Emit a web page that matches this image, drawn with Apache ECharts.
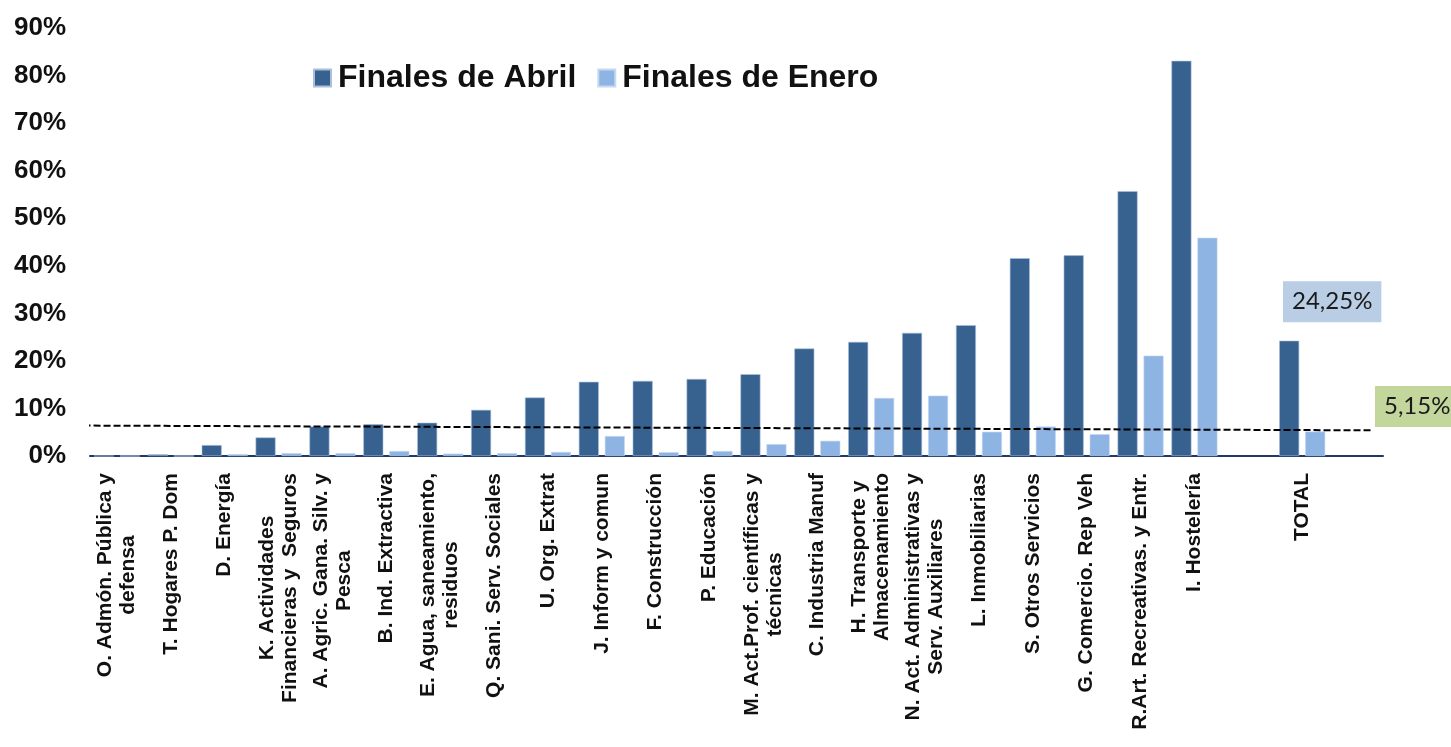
<!DOCTYPE html>
<html>
<head>
<meta charset="utf-8">
<script src="https://cdn.jsdelivr.net/npm/echarts@6/dist/echarts.min.js"></script>
<style>
html,body{margin:0;padding:0;background:#fff;}
#chart{width:1451px;height:747px;}
</style>
</head>
<body>
<div id="chart"></div>
<script>
const categories = [
  'O. Admón. Pública y\ndefensa', 'T. Hogares P. Dom', 'D. Energía',
  'K. Actividades\nFinancieras y  Seguros', 'A. Agric. Gana. Silv. y\nPesca',
  'B. Ind. Extractiva', 'E. Agua, saneamiento,\nresiduos', 'Q. Sani. Serv. Sociales',
  'U. Org. Extrat', 'J. Inform y comun', 'F. Construcción', 'P. Educación',
  'M. Act.Prof. científicas y\ntécnicas', 'C. Industria Manuf',
  'H. Transporte y\nAlmacenamiento', 'N. Act. Administrativas y\nServ. Auxiliares',
  'L. Inmobiliarias', 'S. Otros Servicios', 'G. Comercio. Rep Veh',
  'R.Art. Recreativas. y Entr.', 'I. Hostelería', '', 'TOTAL', ''
];
const finalesAbril = [0, 0.35, 2.3, 3.9, 6.2, 6.7, 7.0, 9.7, 12.3, 15.6, 15.8, 16.2, 17.2, 22.6, 24.0, 25.9, 27.5, 41.6, 42.2, 55.7, 83.1, null, 24.25, null];
const finalesEnero = [0, 0, 0.4, 0.6, 0.6, 1.05, 0.5, 0.6, 0.85, 4.2, 0.8, 1.05, 2.5, 3.2, 12.2, 12.7, 5.1, 6.2, 4.6, 21.1, 45.9, null, 5.15, null];
const yTicks = [0, 10, 20, 30, 40, 50, 60, 70, 80, 90];
// dashed reference line: [position along the plot width (0..1), value %]
const refLineX = [-0.005, 0.992];
const refLineY = [6.4, 5.4];
const totalAbrilLabel = '24,25%';
const totalEneroLabel = '5,15%';

const chart = echarts.init(document.getElementById('chart'), null, {renderer: 'canvas'});
const refData = refLineX.map((x, i) => [x, refLineY[i]]);

chart.setOption({
  animation: false,
  backgroundColor: '#ffffff',
  grid: {left: 90, right: 68, top: 28, bottom: 291, containLabel: false},
  legend: {
    left: 308, top: 57,
    itemWidth: 17, itemHeight: 17, itemGap: 21,
    icon: 'rect',
    textStyle: {fontSize: 32, fontWeight: 'bold', color: '#111', fontFamily: 'Liberation Sans, Arial, sans-serif', padding: [0, 0, 0, 2]},
    data: ['Finales de Abril', 'Finales de Enero']
  },
  xAxis: [{
    type: 'category',
    data: categories,
    axisLine: {lineStyle: {color: '#1f3a68', width: 2}},
    axisTick: {show: false},
    axisLabel: {
      interval: 0, rotate: 90, margin: 17,
      formatter: v => v.split('\n').map(s => '{c|' + s + '}').join('\n'),
      rich: {c: {align: 'center', fontSize: 21, fontWeight: 'bold', color: '#111', fontFamily: 'Liberation Sans, Arial, sans-serif', lineHeight: 23}}
    }
  }, {
    type: 'value', min: 0, max: 1, show: false
  }],
  yAxis: {
    type: 'value', min: yTicks[0], max: yTicks[yTicks.length - 1], interval: 10,
    axisLine: {show: false}, axisTick: {show: false},
    splitLine: {show: false},
    axisLabel: {formatter: '{value}%', fontSize: 26, fontWeight: 'bold', color: '#111', margin: 24, fontFamily: 'Liberation Sans, Arial, sans-serif'}
  },
  series: [{
    name: 'Finales de Abril', type: 'bar', data: finalesAbril,
    barWidth: 20, barGap: '30%',
    itemStyle: {color: '#37618f', borderColor: '#a9bfdc', borderWidth: 0.6},
    markPoint: {
      symbol: 'rect', symbolSize: 0,
      data: [{coord: ['TOTAL', finalesAbril[22]], value: totalAbrilLabel}],
      label: {
        show: true, position: 'inside', offset: [43, -39],
        formatter: () => totalAbrilLabel,
        backgroundColor: '#b9cde5', padding: [8, 9, 8, 9],
        fontSize: 24, lineHeight: 25, color: '#1a1a1a', fontFamily: 'Lato, Carlito, sans-serif'
      }
    }
  }, {
    name: 'Finales de Enero', type: 'bar', data: finalesEnero,
    barWidth: 20, barGap: '30%',
    itemStyle: {color: '#8eb4e3', borderColor: '#c6d9f1', borderWidth: 0.6},
    markPoint: {
      symbol: 'rect', symbolSize: 0,
      data: [{coord: ['TOTAL', finalesEnero[22]], value: totalEneroLabel}],
      label: {
        show: true, position: 'inside', offset: [102, -25],
        formatter: () => totalEneroLabel,
        backgroundColor: '#c3d69b', padding: [8, 9, 8, 9],
        fontSize: 24, lineHeight: 25, color: '#1a1a1a', fontFamily: 'Lato, Carlito, sans-serif'
      }
    }
  }, {
    type: 'line', xAxisIndex: 1, data: refData,
    symbol: 'none', clip: false, z: 10, silent: true,
    lineStyle: {color: '#000', width: 2, type: [7, 3]}
  }]
});
</script>
</body>
</html>
